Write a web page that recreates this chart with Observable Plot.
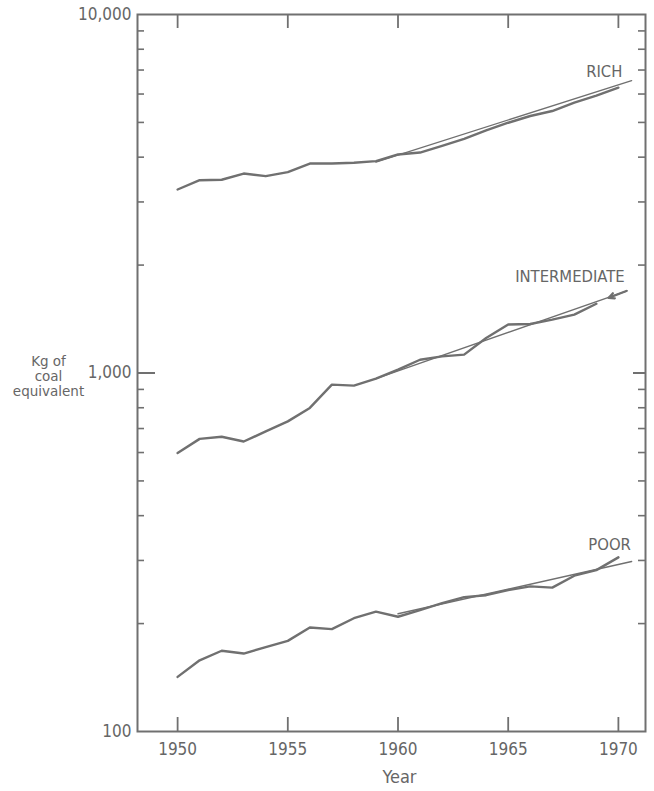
<!DOCTYPE html>
<html>
<head>
<meta charset="utf-8">
<script src="https://cdn.jsdelivr.net/npm/d3@7"></script>
<script src="https://cdn.jsdelivr.net/npm/@observablehq/plot@0.6"></script>
<style>
  html, body { margin: 0; padding: 0; background: #ffffff; }
  #chart svg { display: block; }
</style>
</head>
<body>
<div id="chart"></div>
<script>
// ---- data ----
const years = [1950,1951,1952,1953,1954,1955,1956,1957,1958,1959,1960,1961,1962,1963,1964,1965,1966,1967,1968,1969,1970];
const rich = [3250,3450,3460,3600,3540,3635,3840,3840,3860,3900,4070,4120,4300,4500,4750,4990,5210,5380,5675,5940,6250];
const intermediate = [598,655,664,644,687,733,799,928,922,964,1022,1089,1113,1125,1252,1365,1370,1409,1455,1560,null];
const poor = [142,158,168,165,172,179,195,193,207,216,209,218,228,237,240,248,254,252,272,282,306];

// fitted trend lines (start / end)
const groups = ["RICH", "INTERMEDIATE", "POOR"];
const trendStartYear = [1959, 1959, 1960];
const trendEndYear = [1970.6, 1970.4, 1970.6];
const trendStartValue = [3875, 964, 213];
const trendEndValue = [6540, 1695, 298];

// series labels
const labelYear = [1969.36, 1967.8, 1969.6];
const labelValue = [6930, 1854, 331];

// pointer arrow for INTERMEDIATE
const arrowFrom = {year: 1970.36, value: 1694};
const arrowTo = {year: 1969.55, value: 1620};

// axes
const xTicks = [1950, 1955, 1960, 1965, 1970];
const yLabelTicks = [100, 1000, 10000];
const yMinorTicks = [200,300,400,500,600,700,800,900,2000,3000,4000,5000,6000,7000,8000,9000];
const yMajorTicks = [1000];
const xDomain = [1948.18, 1971.23];
const yDomain = [100, 10000];
const yTitleLines = ["Kg of", "coal", "equivalent"];

// ---- build tables ----
const seriesValues = [rich, intermediate, poor];
const lineData = [];
groups.forEach((g, gi) => years.forEach((yr, i) => lineData.push({group: g, year: yr, value: seriesValues[gi][i]})));
const trendData = [];
groups.forEach((g, gi) => {
  trendData.push({group: g, year: trendStartYear[gi], value: trendStartValue[gi]});
  trendData.push({group: g, year: trendEndYear[gi], value: trendEndValue[gi]});
});
const labelData = groups.map((g, i) => ({text: g, year: labelYear[i], value: labelValue[i]}));

// ---- layout ----
const W = 654, H = 791;
const mL = 137, mR = 9, mT = 14, mB = 60;
const fw = W - mL - mR, fh = H - mT - mB;
const ink = "#707070";
const textInk = "#666666";
const font = "'DejaVu Sans Condensed', 'Liberation Sans Narrow', 'DejaVu Sans', sans-serif";

const chart = Plot.plot({
  width: W,
  height: H,
  marginLeft: mL,
  marginRight: mR,
  marginTop: mT,
  marginBottom: mB,
  style: {fontFamily: font, fontSize: "17px", color: textInk, background: "#ffffff", fontStretch: "condensed"},
  x: {domain: xDomain, ticks: xTicks, tickSize: 0, tickPadding: 11, tickFormat: d => String(d), label: null},
  y: {type: "log", domain: yDomain, ticks: yLabelTicks, tickSize: 0, tickPadding: 6, tickFormat: d3.format(","), label: null},
  marks: [
    Plot.frame({stroke: ink, strokeWidth: 2}),
    // inward ticks, left side
    Plot.tickY(yMinorTicks, {y: d => d, insetRight: fw - 7, stroke: ink, strokeWidth: 1.6}),
    Plot.tickY(yMajorTicks, {y: d => d, insetRight: fw - 18, stroke: ink, strokeWidth: 2}),
    // inward ticks, right side
    Plot.tickY(yMinorTicks, {y: d => d, insetLeft: fw - 7, stroke: ink, strokeWidth: 1.6}),
    Plot.tickY(yMajorTicks, {y: d => d, insetLeft: fw - 12, stroke: ink, strokeWidth: 2}),
    // inward ticks, bottom and top
    Plot.tickX(xTicks, {x: d => d, insetTop: fh - 14, stroke: ink, strokeWidth: 1.8}),
    Plot.tickX(xTicks, {x: d => d, insetBottom: fh - 14, stroke: ink, strokeWidth: 1.8}),
    // trend lines
    Plot.line(trendData, {x: "year", y: "value", z: "group", stroke: ink, strokeWidth: 1.4}),
    // data lines
    Plot.line(lineData, {x: "year", y: "value", z: "group", stroke: ink, strokeWidth: 2.4, strokeLinejoin: "round", strokeLinecap: "round"}),
    // arrow
    Plot.arrow([{}], {x1: () => arrowFrom.year, y1: () => arrowFrom.value, x2: () => arrowTo.year, y2: () => arrowTo.value, stroke: ink, strokeWidth: 2.2, headLength: 7, headAngle: 50}),
    // series labels
    Plot.text(labelData, {x: "year", y: "value", text: "text", fontSize: 16.5, fill: textInk, textAnchor: "middle", lineAnchor: "middle"}),
    // axis titles
    Plot.text([yTitleLines.join("\n")], {text: d => d, frameAnchor: "left", dx: -89, dy: 3, textAnchor: "middle", lineAnchor: "middle", lineHeight: 1.12, fontSize: 13.5, fontFamily: "'DejaVu Sans', sans-serif", fill: textInk}),
    Plot.text(["Year"], {text: d => d, frameAnchor: "bottom", dx: 8, dy: 46, textAnchor: "middle", lineAnchor: "middle", fontSize: 18, fill: textInk})
  ]
});
// the y title uses the normal-width face
chart.querySelectorAll("text").forEach(t => {
  if (t.textContent.includes("equivalent")) t.style.fontStretch = "normal";
});
document.getElementById("chart").appendChild(chart);
</script>
</body>
</html>
